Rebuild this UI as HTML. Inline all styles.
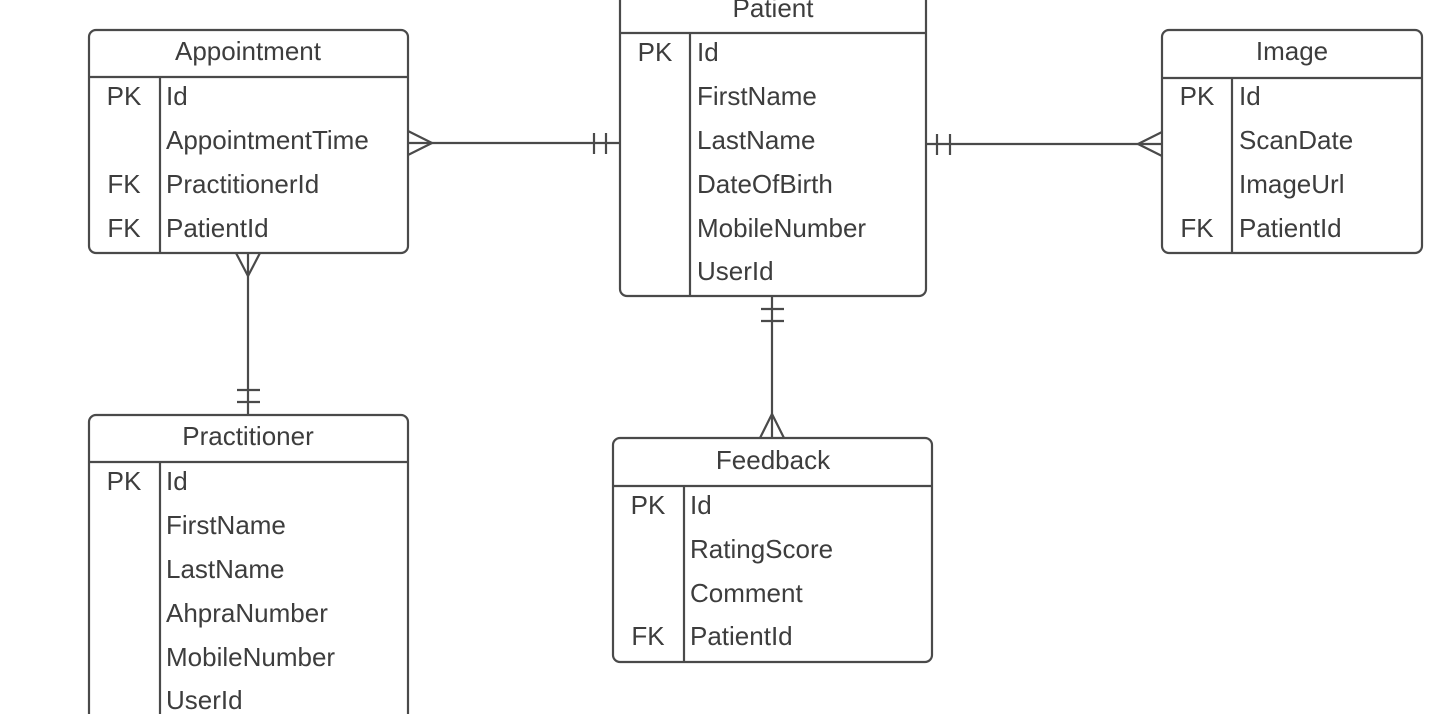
<!DOCTYPE html>
<html><head><meta charset="utf-8"><style>
html,body{margin:0;padding:0;background:#fff;}
svg{display:block;}
text{font-family:"Liberation Sans",Arial,sans-serif;font-size:26px;fill:#3d3d3d;}
</style></head><body>
<svg width="1456" height="714" viewBox="0 0 1456 714" xmlns="http://www.w3.org/2000/svg">
<g fill="none" stroke="#4a4a4a" stroke-width="2.2">
<rect x="89" y="30" width="319" height="223" rx="7"/>
<line x1="89" y1="77" x2="408" y2="77"/><line x1="160" y1="77" x2="160" y2="253"/>
<rect x="620" y="-20" width="306" height="316" rx="7"/>
<line x1="620" y1="33" x2="926" y2="33"/><line x1="690" y1="33" x2="690" y2="296"/>
<rect x="1162" y="30" width="260" height="223" rx="7"/>
<line x1="1162" y1="78" x2="1422" y2="78"/><line x1="1232" y1="78" x2="1232" y2="253"/>
<rect x="89" y="415" width="319" height="330" rx="7"/>
<line x1="89" y1="462" x2="408" y2="462"/><line x1="160" y1="462" x2="160" y2="714"/>
<rect x="613" y="438" width="319" height="224" rx="7"/>
<line x1="613" y1="486" x2="932" y2="486"/><line x1="684" y1="486" x2="684" y2="662"/>
<line x1="408" y1="143" x2="620" y2="143"/>
<polyline points="408,131 432,143 408,155"/>
<line x1="594" y1="133" x2="594" y2="154"/><line x1="606" y1="133" x2="606" y2="154"/>
<line x1="926" y1="144" x2="1162" y2="144"/>
<polyline points="1162,132 1138,144 1162,156"/>
<line x1="937" y1="134" x2="937" y2="155"/><line x1="950" y1="134" x2="950" y2="155"/>
<line x1="248" y1="253" x2="248" y2="415"/>
<polyline points="236,253 248,276 260,253"/>
<line x1="237" y1="390" x2="260" y2="390"/><line x1="237" y1="402" x2="260" y2="402"/>
<line x1="772" y1="296" x2="772" y2="438"/>
<polyline points="760,438 772,414 784,438"/>
<line x1="761" y1="309" x2="784" y2="309"/><line x1="761" y1="321" x2="784" y2="321"/>
</g>
<text x="248" y="60" text-anchor="middle">Appointment</text>
<text x="124" y="105" text-anchor="middle">PK</text><text x="166" y="105">Id</text>
<text x="166" y="149">AppointmentTime</text>
<text x="124" y="193" text-anchor="middle">FK</text><text x="166" y="193">PractitionerId</text>
<text x="124" y="237" text-anchor="middle">FK</text><text x="166" y="237">PatientId</text>
<text x="773" y="17" text-anchor="middle">Patient</text>
<text x="655" y="61" text-anchor="middle">PK</text><text x="697" y="61">Id</text>
<text x="697" y="105">FirstName</text>
<text x="697" y="149">LastName</text>
<text x="697" y="193">DateOfBirth</text>
<text x="697" y="237">MobileNumber</text>
<text x="697" y="280">UserId</text>
<text x="1292" y="60" text-anchor="middle">Image</text>
<text x="1197" y="105" text-anchor="middle">PK</text><text x="1239" y="105">Id</text>
<text x="1239" y="149">ScanDate</text>
<text x="1239" y="193">ImageUrl</text>
<text x="1197" y="237" text-anchor="middle">FK</text><text x="1239" y="237">PatientId</text>
<text x="248" y="445" text-anchor="middle">Practitioner</text>
<text x="124" y="490" text-anchor="middle">PK</text><text x="166" y="490">Id</text>
<text x="166" y="534">FirstName</text>
<text x="166" y="578">LastName</text>
<text x="166" y="622">AhpraNumber</text>
<text x="166" y="666">MobileNumber</text>
<text x="166" y="709">UserId</text>
<text x="773" y="469" text-anchor="middle">Feedback</text>
<text x="648" y="514" text-anchor="middle">PK</text><text x="690" y="514">Id</text>
<text x="690" y="558">RatingScore</text>
<text x="690" y="602">Comment</text>
<text x="648" y="645" text-anchor="middle">FK</text><text x="690" y="645">PatientId</text>
</svg>
</body></html>
